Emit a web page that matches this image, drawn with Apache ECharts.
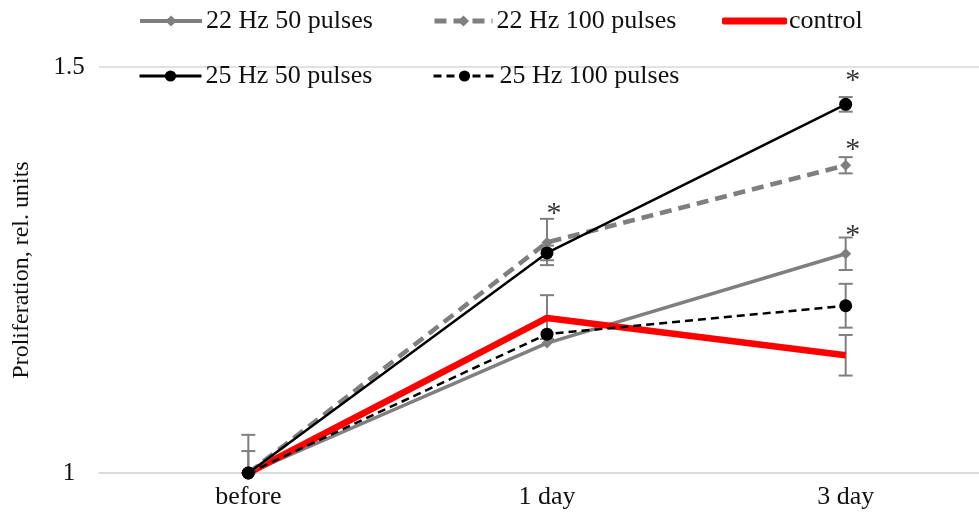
<!DOCTYPE html>
<html>
<head>
<meta charset="utf-8">
<script src="https://cdn.jsdelivr.net/npm/echarts@6/dist/echarts.min.js"></script>
<style>
  html, body { margin: 0; padding: 0; background: #ffffff; }
  #chart { width: 979px; height: 513px; }
</style>
</head>
<body>
<div id="chart"></div>
<script>
// proliferation vs time, 5 stimulation groups
var chart = echarts.init(document.getElementById("chart"));

var days = ["before", "1 day", "3 day"];
var hz22_50 = [1.0, 1.160, 1.270];
var hz22_100 = [1.0, 1.284, 1.379];
var control = [1.0, 1.191, 1.145];
var hz25_50 = [1.0, 1.271, 1.454];
var hz25_100 = [1.0, 1.171, 1.206];

// [day index, low, high]
var errorBars = [
  [0, 1.0, 1.047],
  [0, 1.0, 1.027],
  [1, 1.256, 1.313],
  [1, 1.262, 1.280],
  [1, 1.165, 1.219],
  [2, 1.445, 1.463],
  [2, 1.369, 1.389],
  [2, 1.250, 1.290],
  [2, 1.179, 1.233],
  [2, 1.120, 1.170]
];

// significance marks
var stars = [[1, 1.319], [2, 1.483], [2, 1.398], [2, 1.292]];

var gray = "#7f7f7f";
var serif = "Liberation Serif";

function legendItem(name, left, top, width, lineStyle) {
  return {
    data: [name],
    left: left,
    top: top,
    padding: 0,
    itemWidth: width,
    itemHeight: 14,
    itemGap: 0,
    selectedMode: false,
    lineStyle: lineStyle,
    textStyle: { fontFamily: serif, fontSize: 26, color: "#111", padding: [0, 0, 0, -1] }
  };
}

var controlLegend = {
  data: [{ name: "control", icon: "roundRect" }],
  left: 722,
  top: 8,
  padding: 0,
  itemWidth: 65,
  itemHeight: 7,
  selectedMode: false,
  itemStyle: { color: "#ff0000" },
  textStyle: { fontFamily: serif, fontSize: 26, color: "#111", padding: [0, 0, 0, -3] }
};

var option = {
  backgroundColor: "#ffffff",
  animation: false,
  legend: [
    legendItem("22 Hz 50 pulses", 138, 8, 62, { width: 4, type: "solid" }),
    legendItem("22 Hz 100 pulses", 432, 8, 58, { width: 5, type: [12, 7] }),
    controlLegend,
    legendItem("25 Hz 50 pulses", 138, 63, 62, { width: 3, type: "solid" }),
    legendItem("25 Hz 100 pulses", 432, 63, 62, { width: 3, type: [8, 5] })
  ],
  grid: {
    left: 99,
    width: 896,
    top: 67,
    bottom: 40,
    containLabel: false,
    outerBoundsMode: "none"
  },
  xAxis: {
    type: "category",
    data: days,
    boundaryGap: true,
    axisTick: { show: false },
    axisLine: { show: true, lineStyle: { color: "#d9d9d9", width: 1.5 } },
    axisLabel: { color: "#111", fontFamily: serif, fontSize: 26, margin: 11 }
  },
  yAxis: {
    type: "value",
    min: 1,
    max: 1.5,
    interval: 0.5,
    name: "Proliferation, rel. units",
    nameLocation: "middle",
    nameGap: 65,
    nameTextStyle: { color: "#111", fontFamily: serif, fontSize: 24 },
    axisLine: { show: false },
    axisTick: { show: false },
    axisLabel: { color: "#111", fontFamily: serif, fontSize: 25, align: "center", margin: 30 },
    splitLine: { lineStyle: { color: "#d9d9d9", width: 1.5 } }
  },
  series: [
    {
      name: "errors",
      type: "custom",
      z: 1,
      data: errorBars,
      renderItem: function (params, api) {
        var x = api.value(0);
        var lo = api.coord([x, api.value(1)]);
        var hi = api.coord([x, api.value(2)]);
        var half = 7;
        var style = { stroke: gray, lineWidth: 2 };
        return {
          type: "group",
          children: [
            { type: "line", shape: { x1: lo[0], y1: lo[1], x2: hi[0], y2: hi[1] }, style: style },
            { type: "line", shape: { x1: lo[0] - half, y1: lo[1], x2: lo[0] + half, y2: lo[1] }, style: style },
            { type: "line", shape: { x1: hi[0] - half, y1: hi[1], x2: hi[0] + half, y2: hi[1] }, style: style }
          ]
        };
      }
    },
    {
      name: "22 Hz 50 pulses",
      type: "line",
      z: 2,
      data: hz22_50,
      symbol: "diamond",
      symbolSize: 11,
      itemStyle: { color: gray },
      lineStyle: { color: gray, width: 3.5 }
    },
    {
      name: "control",
      type: "line",
      z: 3,
      data: control,
      showSymbol: false,
      symbol: "none",
      itemStyle: { color: "#ff0000" },
      lineStyle: { color: "#ff0000", width: 6.5 }
    },
    {
      name: "25 Hz 100 pulses",
      type: "line",
      z: 4,
      data: hz25_100,
      symbol: "circle",
      symbolSize: 13,
      itemStyle: { color: "#000" },
      lineStyle: { color: "#000", width: 2.5, type: [8, 5] }
    },
    {
      name: "22 Hz 100 pulses",
      type: "line",
      z: 5,
      data: hz22_100,
      symbol: "diamond",
      symbolSize: 11,
      itemStyle: { color: gray },
      lineStyle: { color: gray, width: 4.5, type: [12, 7] }
    },
    {
      name: "25 Hz 50 pulses",
      type: "line",
      z: 6,
      data: hz25_50,
      symbol: "circle",
      symbolSize: 13,
      itemStyle: { color: "#000" },
      lineStyle: { color: "#000", width: 2.5 }
    },
    {
      name: "stars",
      type: "scatter",
      z: 7,
      data: stars,
      symbolSize: 0,
      silent: true,
      label: {
        show: true,
        position: "inside",
        offset: [7, 0],
        formatter: "*",
        fontFamily: serif,
        fontSize: 30,
        color: "#000"
      }
    }
  ]
};

chart.setOption(option);
</script>
</body>
</html>
